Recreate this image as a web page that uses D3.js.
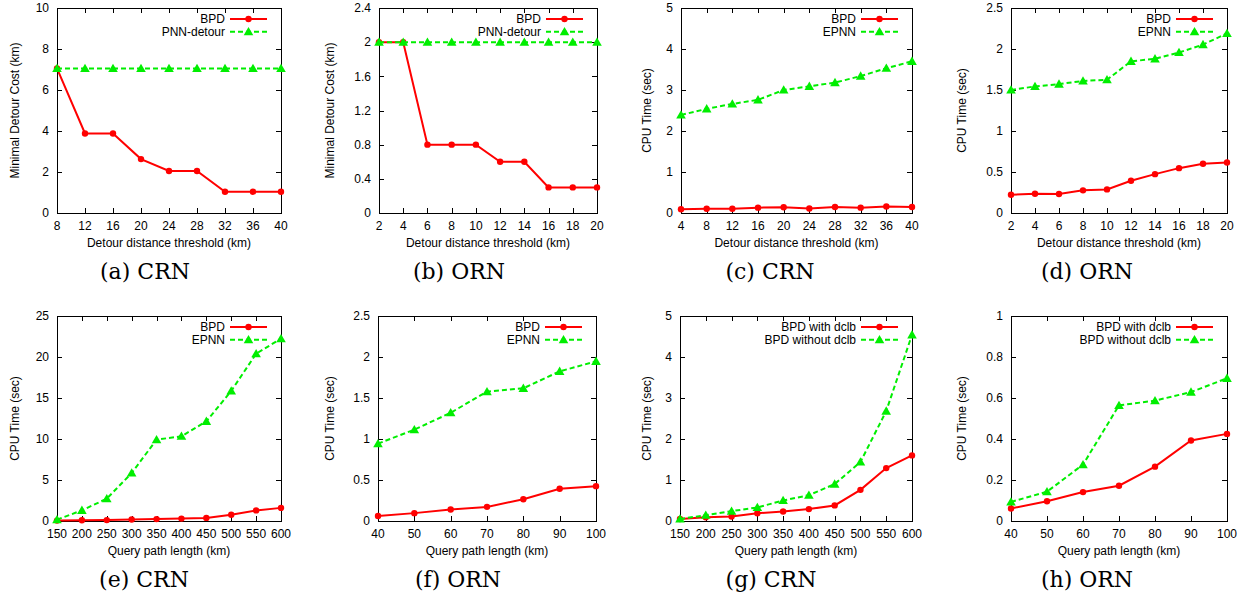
<!DOCTYPE html>
<html lang="en">
<head>
    <meta charset="UTF-8">
    <title>BPD vs PNN experiments</title>
    <script src="https://d3js.org/d3.v7.min.js"></script>
    <style>
        body { margin: 0; background: #fff; }
        svg { display: block; }
        .tick-label, .axis-title, .legend-text { font-family: "Liberation Sans", Arial, sans-serif; font-size: 12px; fill: #000; }
        .caption { font-family: "DejaVu Serif", serif; font-size: 22px; fill: #000; }
    </style>
</head>
<body>
<div id="chart"></div>
<script>

// ---- data ----
const xDetourCRN = [8, 12, 16, 20, 24, 28, 32, 36, 40];
const costBpdCRN = [7.05, 3.88, 3.88, 2.63, 2.05, 2.05, 1.04, 1.04, 1.04];
const costPnnCRN = [7.05, 7.05, 7.05, 7.05, 7.05, 7.05, 7.05, 7.05, 7.05];

const xDetourORN = [2, 4, 6, 8, 10, 12, 14, 16, 18, 20];
const costBpdORN = [2.0, 2.0, 0.8, 0.8, 0.8, 0.6, 0.6, 0.3, 0.3, 0.3];
const costPnnORN = [2.0, 2.0, 2.0, 2.0, 2.0, 2.0, 2.0, 2.0, 2.0, 2.0];

const xDetourCRN2 = [4, 8, 12, 16, 20, 24, 28, 32, 36, 40];
const timeBpdDetourCRN = [0.09, 0.105, 0.105, 0.13, 0.14, 0.11, 0.146, 0.13, 0.16, 0.146];
const timeEpnnDetourCRN = [2.39, 2.54, 2.66, 2.76, 3.0, 3.09, 3.18, 3.34, 3.53, 3.70];

const timeBpdDetourORN = [0.223, 0.235, 0.231, 0.276, 0.288, 0.393, 0.474, 0.547, 0.60, 0.616];
const timeEpnnDetourORN = [1.50, 1.544, 1.572, 1.61, 1.625, 1.85, 1.88, 1.957, 2.054, 2.19];

const xPathCRN = [150, 200, 250, 300, 350, 400, 450, 500, 550, 600];
const timeBpdPathCRN = [0.05, 0.09, 0.11, 0.19, 0.23, 0.29, 0.38, 0.76, 1.29, 1.6];
const timeEpnnPathCRN = [0.16, 1.3, 2.72, 5.85, 9.92, 10.33, 12.15, 15.85, 20.4, 22.24];
const timeNoDclbCRN = [0.05, 0.14, 0.24, 0.33, 0.50, 0.63, 0.90, 1.44, 2.68, 4.54];

const xPathORN = [40, 50, 60, 70, 80, 90, 100];
const timeBpdPathORN = [0.061, 0.096, 0.141, 0.172, 0.265, 0.393, 0.425];
const timeEpnnPathORN = [0.943, 1.114, 1.32, 1.577, 1.618, 1.825, 1.947];
const timeNoDclbORN = [0.093, 0.143, 0.275, 0.564, 0.587, 0.629, 0.696];

const yTicksCost10 = [0, 2, 4, 6, 8, 10];
const yTicksCost24 = [0, 0.4, 0.8, 1.2, 1.6, 2.0, 2.4];
const yTicks5 = [0, 1, 2, 3, 4, 5];
const yTicks25 = [0, 0.5, 1, 1.5, 2, 2.5];
const yTicks25big = [0, 5, 10, 15, 20, 25];
const yTicks1 = [0, 0.2, 0.4, 0.6, 0.8, 1];

const seriesColors = ["#ff0000", "#00ee00"];

// ---- panel layout ----
const panels = [
    { left: 57, right: 281, top: 8, bottom: 213, x: xDetourCRN, yTicks: yTicksCost10,
      yTitle: "Minimal Detour Cost (km)", yTitleX: 15, xTitle: "Detour distance threshold (km)",
      caption: "(a) CRN", captionX: 145, names: ["BPD", "PNN-detour"], series: [costBpdCRN, costPnnCRN] },
    { left: 379, right: 597, top: 8, bottom: 213, x: xDetourORN, yTicks: yTicksCost24,
      yTitle: "Minimal Detour Cost (km)", yTitleX: 330, xTitle: "Detour distance threshold (km)",
      caption: "(b) ORN", captionX: 459, names: ["BPD", "PNN-detour"], series: [costBpdORN, costPnnORN] },
    { left: 681, right: 912, top: 8, bottom: 213, x: xDetourCRN2, yTicks: yTicks5,
      yTitle: "CPU Time (sec)", yTitleX: 647, xTitle: "Detour distance threshold (km)",
      caption: "(c) CRN", captionX: 770, names: ["BPD", "EPNN"], series: [timeBpdDetourCRN, timeEpnnDetourCRN] },
    { left: 1011, right: 1227, top: 8, bottom: 213, x: xDetourORN, yTicks: yTicks25,
      yTitle: "CPU Time (sec)", yTitleX: 962, xTitle: "Detour distance threshold (km)",
      caption: "(d) ORN", captionX: 1087, names: ["BPD", "EPNN"], series: [timeBpdDetourORN, timeEpnnDetourORN] },
    { left: 57, right: 281, top: 316, bottom: 521, x: xPathCRN, yTicks: yTicks25big,
      yTitle: "CPU Time (sec)", yTitleX: 15, xTitle: "Query path length (km)",
      caption: "(e) CRN", captionX: 144, names: ["BPD", "EPNN"], series: [timeBpdPathCRN, timeEpnnPathCRN] },
    { left: 378, right: 596, top: 316, bottom: 521, x: xPathORN, yTicks: yTicks25,
      yTitle: "CPU Time (sec)", yTitleX: 330, xTitle: "Query path length (km)",
      caption: "(f) ORN", captionX: 458, names: ["BPD", "EPNN"], series: [timeBpdPathORN, timeEpnnPathORN] },
    { left: 680, right: 912, top: 316, bottom: 521, x: xPathCRN, yTicks: yTicks5,
      yTitle: "CPU Time (sec)", yTitleX: 647, xTitle: "Query path length (km)",
      caption: "(g) CRN", captionX: 771, names: ["BPD with dclb", "BPD without dclb"], series: [timeBpdPathCRN, timeNoDclbCRN] },
    { left: 1011, right: 1227, top: 316, bottom: 521, x: xPathORN, yTicks: yTicks1,
      yTitle: "CPU Time (sec)", yTitleX: 962, xTitle: "Query path length (km)",
      caption: "(h) ORN", captionX: 1087, names: ["BPD with dclb", "BPD without dclb"], series: [timeBpdPathORN, timeNoDclbORN] }
];

const svg = d3.select("#chart").append("svg")
    .attr("width", 1252).attr("height", 597);
svg.append("rect").attr("width", 1252).attr("height", 597).attr("fill", "#fff");

const fmt = d3.format("~g");
const TICK = 5;

function drawMarker(g, i, cx, cy) {
    if (i === 0) {
        g.append("circle").attr("cx", cx).attr("cy", cy).attr("r", 3.2).attr("fill", seriesColors[0]);
    } else {
        g.append("path")
            .attr("d", d3.symbol().type(d3.symbolTriangle).size(40)())
            .attr("transform", `translate(${cx},${cy + 0.8})`)
            .attr("fill", seriesColors[1]);
    }
}

panels.forEach(p => {
    const g = svg.append("g");
    const x = d3.scaleLinear().domain(d3.extent(p.x)).range([p.left, p.right]);
    const y = d3.scaleLinear().domain(d3.extent(p.yTicks)).range([p.bottom, p.top]);

    // ticks on all four sides, pointing inward
    p.yTicks.forEach(t => {
        const yy = Math.round(y(t)) + 0.5;
        g.append("line").attr("x1", p.left).attr("x2", p.left + TICK).attr("y1", yy).attr("y2", yy).attr("stroke", "#000");
        g.append("line").attr("x1", p.right - TICK).attr("x2", p.right).attr("y1", yy).attr("y2", yy).attr("stroke", "#000");
        g.append("text").attr("class", "tick-label")
            .attr("x", p.left - 8).attr("y", y(t)).attr("dy", "0.36em")
            .attr("text-anchor", "end").text(fmt(t));
    });
    p.x.forEach(t => {
        const xx = Math.round(x(t)) + 0.5;
        g.append("line").attr("x1", xx).attr("x2", xx).attr("y1", p.bottom).attr("y2", p.bottom - TICK).attr("stroke", "#000");
        g.append("line").attr("x1", xx).attr("x2", xx).attr("y1", p.top).attr("y2", p.top + TICK).attr("stroke", "#000");
        g.append("text").attr("class", "tick-label")
            .attr("x", x(t)).attr("y", p.bottom + 16.5)
            .attr("text-anchor", "middle").text(t);
    });

    g.append("rect")
        .attr("x", p.left + 0.5).attr("y", p.top + 0.5)
        .attr("width", p.right - p.left).attr("height", p.bottom - p.top)
        .attr("fill", "none").attr("stroke", "#000").attr("stroke-width", 1);

    g.append("text").attr("class", "axis-title")
        .attr("x", (p.left + p.right) / 2).attr("y", p.bottom + 34)
        .attr("text-anchor", "middle").text(p.xTitle);
    g.append("text").attr("class", "axis-title")
        .attr("transform", `translate(${p.yTitleX},${(p.top + p.bottom) / 2}) rotate(-90)`)
        .attr("dy", "0.36em").attr("text-anchor", "middle").text(p.yTitle);

    g.append("text").attr("class", "caption")
        .attr("x", p.captionX).attr("y", p.bottom + 66)
        .attr("text-anchor", "middle").text(p.caption);

    // series
    const line = d3.line().x(d => x(d[0])).y(d => y(d[1]));
    p.series.forEach((vals, i) => {
        const pts = p.x.map((xv, k) => [xv, vals[k]]);
        g.append("path").datum(pts)
            .attr("d", line)
            .attr("fill", "none")
            .attr("stroke", seriesColors[i])
            .attr("stroke-width", 2)
            .attr("stroke-dasharray", i === 0 ? null : "5,3");
        pts.forEach(d => drawMarker(g, i, x(d[0]), y(d[1])));

        // legend entry
        const ly = p.top + 11 + i * 12.7;
        const s0 = p.right - 51, s1 = p.right - 14;
        g.append("text").attr("class", "legend-text")
            .attr("x", s0 - 5).attr("y", ly).attr("dy", "0.36em")
            .attr("text-anchor", "end").text(p.names[i]);
        g.append("line").attr("x1", s0).attr("x2", s1).attr("y1", ly).attr("y2", ly)
            .attr("stroke", seriesColors[i]).attr("stroke-width", 2)
            .attr("stroke-dasharray", i === 0 ? null : "5,3");
        drawMarker(g, i, (s0 + s1) / 2, ly);
    });
});

</script>
</body>
</html>
